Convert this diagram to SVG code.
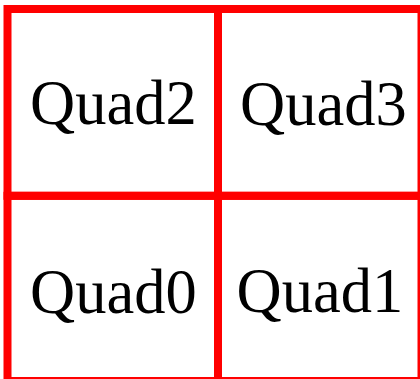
<svg xmlns="http://www.w3.org/2000/svg" width="420" height="379" viewBox="0 0 420 379">
<style>
.q{fill:none;stroke:#ff0000;stroke-width:8}
.t{font-family:"Liberation Serif","Times New Roman",serif;font-size:62.5px;fill:#000}
</style>
<rect x="0" y="0" width="420" height="379" fill="#ffffff"/>
<g id="quad2"><rect class="q" x="7.5" y="9" width="210.5" height="186.8"/><text class="t" x="30" y="123.5">Quad2</text></g>
<g id="quad3"><rect class="q" x="218" y="9" width="203.5" height="186.8"/><text class="t" x="240" y="125">Quad3</text></g>
<g id="quad0"><rect class="q" x="7.5" y="195.8" width="210.5" height="185.2"/><text class="t" x="30" y="312.5">Quad0</text></g>
<g id="quad1"><rect class="q" x="218" y="195.8" width="203.5" height="185.2"/><text class="t" x="236.5" y="312">Quad1</text></g>
<g id="connectors"></g>
</svg>
